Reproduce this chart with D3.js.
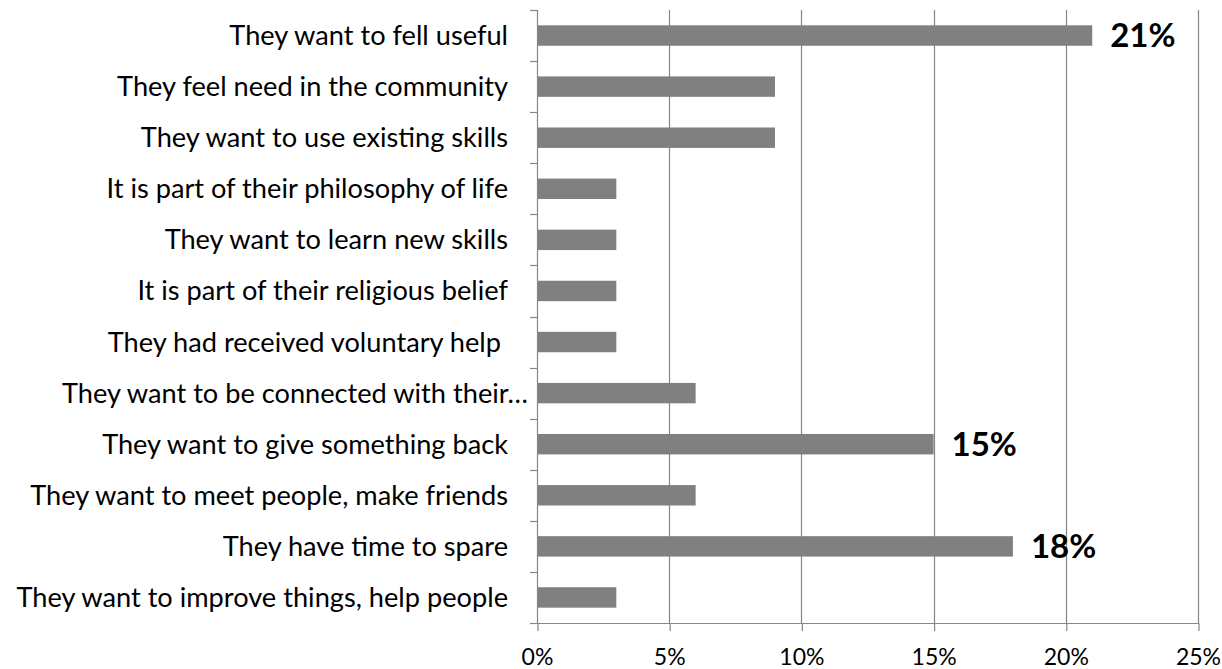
<!DOCTYPE html>
<html>
<head>
<meta charset="utf-8">
<script src="https://cdn.jsdelivr.net/npm/d3@7"></script>
<style>
  html, body { margin: 0; padding: 0; background: #fff; }
  svg { display: block; }
  text { font-family: Lato, "Open Sans", sans-serif; fill: #000; }
</style>
</head>
<body>
<svg id="chart" width="1222" height="669"></svg>
<script>
// Reasons people volunteer (share of responses)
const categories = [
  "They want to fell useful",
  "They feel need in the community",
  "They want to use existing skills",
  "It is part of their philosophy of life",
  "They want to learn new skills",
  "It is part of their religious belief",
  "They had received voluntary help ",
  "They want to be connected with their…",
  "They want to give something back",
  "They want to meet people, make friends",
  "They have time to spare",
  "They want to improve things, help people"
];
const values = [21, 9, 9, 3, 3, 3, 3, 6, 15, 6, 18, 3];
// only the headline reasons carry a value label
const labelled = [true, false, false, false, false, false, false, false, true, false, true, false];
const xTicks = [0, 5, 10, 15, 20, 25];

const svg = d3.select("#chart");
const margin = { top: 10, right: 24, bottom: 46, left: 537 };
const W = 1222, H = 669;
const innerW = W - margin.left - margin.right;
const innerH = H - margin.top - margin.bottom;

const gridColor = "#868686";
const barColor = "#808080";

const x = d3.scaleLinear().domain([0, 25]).range([0, innerW]);
const y = d3.scaleBand().domain(d3.range(categories.length))
  .range([0, innerH]).paddingInner(0.6).paddingOuter(0.3);

const g = svg.append("g").attr("transform", `translate(${margin.left},${margin.top})`);

// vertical gridlines
g.append("g").selectAll("line")
  .data(xTicks.filter(t => t > 0))
  .join("line")
  .attr("x1", d => Math.round(x(d)) + 0.5).attr("x2", d => Math.round(x(d)) + 0.5)
  .attr("y1", 0).attr("y2", innerH)
  .attr("stroke", gridColor).attr("stroke-width", 1.2);

// bars
g.append("g").selectAll("rect")
  .data(values)
  .join("rect")
  .attr("x", 0)
  .attr("y", (d, i) => y(i))
  .attr("width", d => x(d))
  .attr("height", y.bandwidth())
  .attr("fill", barColor);

// value labels
g.append("g").selectAll("text")
  .data(values.map((v, i) => ({ v, i })).filter(d => labelled[d.i]))
  .join("text")
  .attr("x", d => x(d.v) + 18)
  .attr("y", d => y(d.i) + y.bandwidth() / 2)
  .attr("dy", "0.36em")
  .attr("font-size", 33)
  .attr("font-weight", "bold")
  .text(d => d.v + "%");

// x axis
const xAxis = d3.axisBottom(x).tickValues(xTicks).tickFormat(d => d + "%").tickSize(8).tickPadding(18);
const gx = g.append("g").attr("transform", `translate(0,${innerH})`).call(xAxis);
gx.select(".domain").remove();
gx.append("line").attr("x1", -7).attr("x2", innerW + 0.5).attr("y1", 0.5).attr("y2", 0.5)
  .attr("stroke", gridColor).attr("stroke-width", 1.2);
gx.selectAll(".tick line").attr("stroke", gridColor).attr("stroke-width", 1.2)
  .attr("transform", "translate(0.5,0)");
gx.selectAll(".tick text").attr("font-size", 23).attr("font-family", "Lato, sans-serif").attr("fill", "#000");

// y axis with ticks on band boundaries
const gy = g.append("g");
gy.append("line").attr("x1", 0.5).attr("x2", 0.5).attr("y1", 0).attr("y2", innerH)
  .attr("stroke", gridColor).attr("stroke-width", 1.2);
const bounds = d3.range(categories.length + 1).map(i => i * y.step());
gy.selectAll("line.tk").data(bounds).join("line").attr("class", "tk")
  .attr("x1", -7).attr("x2", 0)
  .attr("y1", d => Math.round(d) + 0.5).attr("y2", d => Math.round(d) + 0.5)
  .attr("stroke", gridColor).attr("stroke-width", 1.2);

// category labels
gy.selectAll("text").data(categories).join("text")
  .attr("x", d => d.endsWith("…") ? -9 : -29)
  .attr("y", (d, i) => y(i) + y.bandwidth() / 2)
  .attr("dy", "0.35em")
  .attr("text-anchor", "end")
  .attr("font-size", 27.2)
  .style("white-space", "pre")
  .text(d => d);
</script>
</body>
</html>
